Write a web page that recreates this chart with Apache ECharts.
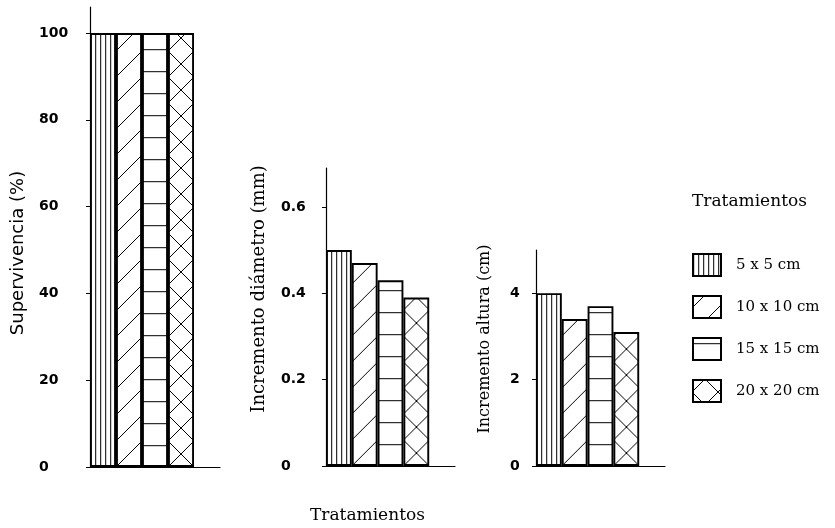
<!DOCTYPE html>
<html>
<head>
<meta charset="utf-8">
<script src="https://cdn.jsdelivr.net/npm/echarts@6/dist/echarts.min.js"></script>
<style>
html,body{margin:0;padding:0;background:#fff;}
#c{width:835px;height:528px;}
</style>
</head>
<body>
<div id="c"></div>
<script>
// ---- data ----
const categories = ['5 x 5 cm', '10 x 10 cm', '15 x 15 cm', '20 x 20 cm'];
const supervivencia = [100, 100, 100, 100];
const diametro = [0.50, 0.47, 0.43, 0.39];
const altura = [4.0, 3.4, 3.7, 3.1];
const supTicks = [0, 20, 40, 60, 80, 100];
const diaTicks = [0, 0.2, 0.4, 0.6];
const altTicks = [0, 2, 4];
const axisNames = ['Supervivencia (%)', 'Incremento diámetro (mm)', 'Incremento altura (cm)'];
const legendTitle = 'Tratamientos';
const xTitle = 'Tratamientos';

// ---- hatch patterns ----
function makeTile(kind) {
  const c = document.createElement('canvas');
  const ctx = c.getContext('2d');
  ctx.strokeStyle = '#000';
  ctx.lineWidth = 1.4;
  if (kind === 0) {
    c.width = 5; c.height = 10;
    ctx.fillStyle = '#fff'; ctx.fillRect(0, 0, 5, 10);
    ctx.beginPath(); ctx.moveTo(0.7, 0); ctx.lineTo(0.7, 10); ctx.stroke();
  } else if (kind === 1) {
    c.width = 26; c.height = 26;
    ctx.fillStyle = '#fff'; ctx.fillRect(0, 0, 26, 26);
    ctx.beginPath();
    ctx.moveTo(-2, 28); ctx.lineTo(28, -2);
    ctx.stroke();
  } else if (kind === 2) {
    c.width = 4; c.height = 22;
    ctx.fillStyle = '#fff'; ctx.fillRect(0, 0, 4, 22);
    ctx.beginPath(); ctx.moveTo(0, 0.7); ctx.lineTo(4, 0.7); ctx.stroke();
  } else {
    c.width = 26; c.height = 26;
    ctx.fillStyle = '#fff'; ctx.fillRect(0, 0, 26, 26);
    ctx.beginPath();
    ctx.moveTo(-2, 28); ctx.lineTo(28, -2);
    ctx.moveTo(-2, -2); ctx.lineTo(28, 28);
    ctx.stroke();
  }
  return c;
}
const tiles = [0, 1, 2, 3].map(makeTile);
function pattern(t, ox, oy) {
  return { image: tiles[t], repeat: 'repeat', x: ox || 0, y: oy || 0 };
}

const panels = [
  { values: supervivencia, ticks: supTicks, max: 106, fmt: v => String(v), margin: 51, gap: 63, pad: [0, 32, 0, 0], serif: false, fs: 18 },
  { values: diametro, ticks: diaTicks, max: 0.69, fmt: v => v === 0 ? '0' : v.toFixed(1), margin: 45, gap: 58, pad: [0, 0, 0, 56], serif: true, fs: 18 },
  { values: altura, ticks: altTicks, max: 5, fmt: v => String(v), margin: 26, gap: 43, pad: [0, 0, 0, 38], serif: true, fs: 16 }
];
const grids = [
  { left: 90, width: 130, top: 7, bottom: 61 },
  { left: 326, width: 129, top: 168, bottom: 62 },
  { left: 536, width: 129, top: 250, bottom: 62 }
];

function buildSeries(offsets) {
  const s = [];
  panels.forEach((p, pi) => {
    categories.forEach((name, t) => {
      const off = offsets ? offsets[pi][t] : [0, 0];
      s.push({
        name: name,
        type: 'bar',
        xAxisIndex: pi,
        yAxisIndex: pi,
        barGap: '-100%',
        barCategoryGap: '0%',
        data: p.values.map((v, i) => (i === t ? v : '-')),
        itemStyle: { color: pattern(t, off[0], off[1]), borderColor: '#000', borderWidth: 1.9 },
        emphasis: { disabled: true },
        silent: true
      });
    });
  });
  return s;
}

const chart = echarts.init(document.getElementById('c'), null, { renderer: 'canvas' });
const option = {
  animation: false,
  backgroundColor: '#fff',
  title: [
    { text: legendTitle, left: 692, top: 193, padding: 0, textStyle: { fontFamily: 'DejaVu Serif', fontSize: 17, fontWeight: 'normal', color: '#000' } },
    { text: xTitle, left: 310, top: 507, padding: 0, textStyle: { fontFamily: 'DejaVu Serif', fontSize: 17, fontWeight: 'normal', color: '#000' } }
  ],
  legend: {
    orient: 'vertical',
    left: 692,
    top: 253,
    padding: 0,
    itemWidth: 28,
    itemHeight: 22,
    itemGap: 18,
    icon: 'rect',
    selectedMode: false,
    data: categories,
    textStyle: { fontFamily: 'DejaVu Serif', fontSize: 15, color: '#000', padding: [12, 0, 0, 10] }
  },
  grid: grids.map(g => Object.assign({ containLabel: false }, g)),
  xAxis: panels.map((p, i) => ({
    type: 'category',
    gridIndex: i,
    data: categories,
    max: 4,
    axisLine: { lineStyle: { color: '#000', width: 1.2 } },
    axisTick: { show: false },
    axisLabel: { show: false },
    splitLine: { show: false }
  })),
  yAxis: panels.map((p, i) => ({
    type: 'value',
    gridIndex: i,
    min: 0,
    max: p.max,
    name: axisNames[i],
    nameLocation: 'middle',
    nameGap: p.gap,
    nameRotate: 90,
    nameTextStyle: {
      fontFamily: p.serif ? 'DejaVu Serif' : 'DejaVu Sans',
      fontSize: p.fs,
      color: '#000',
      padding: p.pad
    },
    axisLine: { show: true, lineStyle: { color: '#000', width: 1.2 } },
    axisTick: { show: true, inside: false, length: 4, lineStyle: { color: '#000' }, customValues: p.ticks },
    axisLabel: {
      customValues: p.ticks,
      formatter: p.fmt,
      align: 'left',
      margin: p.margin,
      fontFamily: 'DejaVu Sans',
      fontWeight: 'bold',
      fontSize: 14,
      color: '#000'
    },
    splitLine: { show: false }
  })),
  series: buildSeries(null)
};
chart.setOption(option);

// align hatch patterns with the left/bottom edge of each bar
const offsets = panels.map((p, pi) => {
  const c0 = chart.convertToPixel({ xAxisIndex: pi }, 0);
  const c1 = chart.convertToPixel({ xAxisIndex: pi }, 1);
  const bw = c1 - c0;
  const y0 = chart.convertToPixel({ yAxisIndex: pi }, 0);
  return categories.map((n, t) => [chart.convertToPixel({ xAxisIndex: pi }, t) - bw / 2, y0]);
});
chart.setOption({ series: buildSeries(offsets) });
</script>
</body>
</html>
